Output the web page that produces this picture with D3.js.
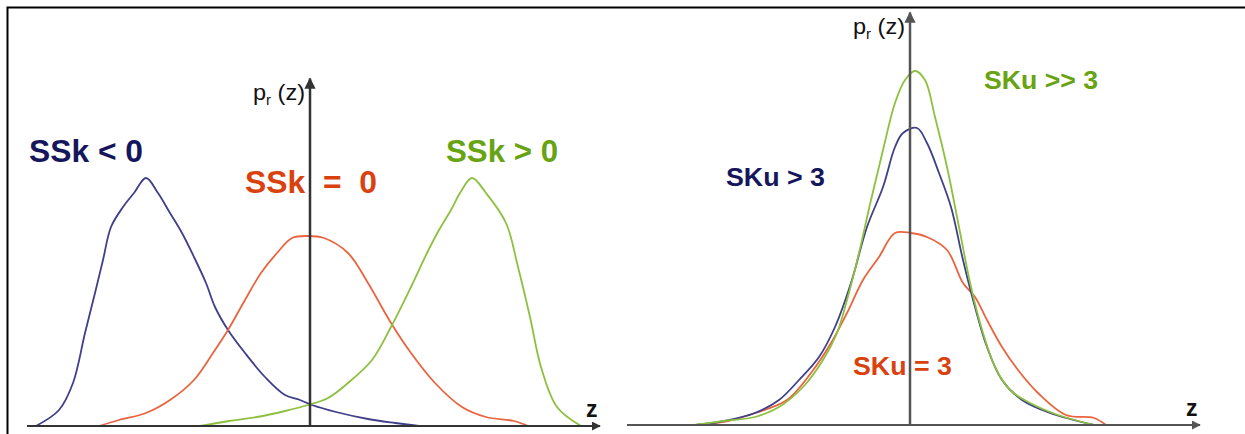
<!DOCTYPE html>
<html>
<head>
<meta charset="utf-8">
<script src="https://cdn.jsdelivr.net/npm/d3@7"></script>
<style>
  body { margin: 0; background: #fff; }
  svg { display: block; }
  text { font-family: "Liberation Sans", Arial, sans-serif; }
</style>
</head>
<body>
<div id="chart"></div>
<script>
// skewness panel (left): z, p values
var skNegZ = [-5.48,-5.02,-4.74,-4.50,-4.30,-4.14,-3.98,-3.74,-3.52,-3.28,-3.04,-2.80,-2.56,-2.32,-2.08,-1.90,-1.64,-1.30,-0.90,-0.50,-0.20,0.04,0.52,1.16,1.70,2.18]
var skNegP = [0,0.064,0.172,0.372,0.532,0.664,0.796,0.876,0.932,0.992,0.932,0.852,0.772,0.676,0.572,0.476,0.384,0.292,0.196,0.124,0.104,0.084,0.056,0.028,0.012,0]

var skZeroZ = [-4.22,-3.82,-3.28,-2.80,-2.32,-1.94,-1.64,-1.30,-0.98,-0.66,-0.36,-0.04,0.28,0.76,1.16,1.62,2.02,2.50,3.04,3.52,4.08,4.36]
var skZeroP = [0,0.024,0.052,0.104,0.184,0.292,0.384,0.504,0.612,0.692,0.752,0.760,0.752,0.692,0.572,0.412,0.292,0.172,0.076,0.036,0.020,0]

var skPosZ = [-2.20,-1.62,-1.06,-0.50,-0.04,0.36,0.76,1.24,1.62,2.02,2.34,2.58,2.82,3.00,3.24,3.52,3.92,4.16,4.40,4.62,4.94,5.42]
var skPosP = [0,0.020,0.036,0.060,0.084,0.112,0.172,0.264,0.396,0.556,0.692,0.784,0.864,0.932,0.992,0.932,0.812,0.636,0.436,0.236,0.076,0]

// kurtosis panel (right)
var kuHighZ = [-4.32,-3.72,-3.10,-2.62,-2.14,-1.74,-1.46,-1.26,-1.02,-0.78,-0.54,-0.30,-0.10,0.10,0.30,0.50,0.74,0.98,1.22,1.46,1.70,2.00,2.40,2.96,3.68]
var kuHighP = [0,0.016,0.032,0.072,0.152,0.26,0.368,0.50,0.688,0.90,1.10,1.288,1.38,1.416,1.38,1.232,1.032,0.792,0.552,0.368,0.232,0.14,0.088,0.04,0]

var kuMidZ = [-4.28,-3.72,-3.10,-2.62,-2.22,-1.82,-1.50,-1.18,-0.86,-0.54,-0.30,-0.14,0.14,0.34,0.58,0.82,1.06,1.30,1.54,1.84,2.24,2.80,3.68]
var kuMidP = [0,0.016,0.048,0.10,0.18,0.272,0.392,0.568,0.792,0.952,1.112,1.168,1.188,1.128,1.008,0.872,0.66,0.472,0.312,0.18,0.10,0.048,0]

var kuNormZ = [-4.28,-3.64,-3.10,-2.46,-1.98,-1.58,-1.26,-0.94,-0.62,-0.30,0.02,0.34,0.74,1.06,1.30,1.54,1.84,2.16,2.56,3.12,3.68,3.92]
var kuNormP = [0,0.016,0.048,0.10,0.208,0.328,0.448,0.58,0.672,0.768,0.768,0.752,0.70,0.568,0.512,0.42,0.312,0.22,0.128,0.04,0.028,0]

var skLabels = ["SSk < 0", "SSk  =  0", "SSk > 0"]
var kuLabels = ["SKu > 3", "SKu = 3", "SKu >> 3"]

var width = 1245, height = 434

var svg = d3.select("#chart").append("svg")
    .attr("width", width)
    .attr("height", height)

// frame
svg.append("path")
    .attr("d", "M7.5,434 V7.5 H1245")
    .attr("fill", "none")
    .attr("stroke", "#000")
    .attr("stroke-width", 2)

var defs = svg.append("defs")
function arrow(id, color) {
    defs.append("marker")
        .attr("id", id)
        .attr("viewBox", "0 0 10 10")
        .attr("refX", 9).attr("refY", 5)
        .attr("markerWidth", 4.5).attr("markerHeight", 4.5)
        .attr("orient", "auto")
        .append("path").attr("d", "M0,0 L10,5 L0,10 Z").attr("fill", color)
}
arrow("arrL", "#333")
arrow("arrR", "#555")

function zip(xs, ys) { return xs.map((x, i) => [x, ys[i]]) }

function panel(opt) {
    var x = d3.scaleLinear().domain([-5.66, 5.8]).range([opt.x0, opt.x0 + 573])
    var y = d3.scaleLinear().domain([0, 1]).range([opt.y0, opt.y0 - 250])
    var g = svg.append("g")

    var line = d3.line()
        .x(d => x(d[0]))
        .y(d => y(d[1]))
        .curve(d3.curveCatmullRom)

    opt.series.forEach(s => {
        g.append("path")
            .datum(zip(s.z, s.p))
            .attr("d", line)
            .attr("fill", "none")
            .attr("stroke", s.color)
            .attr("stroke-width", 1.8)
    })

    // axes
    g.append("line")
        .attr("x1", x(-5.66)).attr("x2", x(5.8))
        .attr("y1", y(0)).attr("y2", y(0))
        .attr("stroke", opt.axis).attr("stroke-width", 2)
        .attr("marker-end", "url(#" + opt.marker + ")")
    g.append("line")
        .attr("x1", x(0)).attr("x2", x(0))
        .attr("y1", y(0) + 1).attr("y2", y(opt.ytop))
        .attr("stroke", opt.axis).attr("stroke-width", 2.5)
        .attr("marker-end", "url(#" + opt.marker + ")")

    // axis titles
    var t = g.append("text")
        .attr("x", x(0) - 57).attr("y", y(opt.ytop) + 21)
        .attr("font-size", 22).attr("fill", "#111")
        .attr("textLength", 52).attr("lengthAdjust", "spacingAndGlyphs")
    t.append("tspan").text("p")
    t.append("tspan").attr("font-size", 14).attr("dy", 5).text("r")
    t.append("tspan").attr("dy", -5).text(" (z)")

    g.append("text")
        .attr("x", x(5.8) - 14).attr("y", y(0) - 9)
        .attr("font-size", 23).attr("font-weight", "bold").attr("fill", "#111")
        .text("z")

    opt.labels.forEach(l => {
        g.append("text")
            .attr("x", l.x).attr("y", l.y)
            .attr("font-size", l.size).attr("font-weight", "bold")
            .attr("fill", l.color)
            .attr("textLength", l.w).attr("lengthAdjust", "spacingAndGlyphs")
            .style("white-space", "pre")
            .text(l.text)
    })
}

panel({
    x0: 27, y0: 426, ytop: 1.39, axis: "#333", marker: "arrL",
    series: [
        {z: skNegZ, p: skNegP, color: "#3f3f8a"},
        {z: skZeroZ, p: skZeroP, color: "#e8653f"},
        {z: skPosZ, p: skPosP, color: "#8dc03f"}
    ],
    labels: [
        {text: skLabels[0], x: 29, y: 162, w: 114, size: 32, color: "#16165c"},
        {text: skLabels[1], x: 245, y: 193, w: 132, size: 32, color: "#d9420f"},
        {text: skLabels[2], x: 446, y: 162, w: 112, size: 32, color: "#67a312"}
    ]
})

panel({
    x0: 627, y0: 425, ytop: 1.65, axis: "#555", marker: "arrR",
    series: [
        {z: kuNormZ, p: kuNormP, color: "#e8653f"},
        {z: kuMidZ, p: kuMidP, color: "#3f3f8a"},
        {z: kuHighZ, p: kuHighP, color: "#8dc03f"}
    ],
    labels: [
        {text: kuLabels[0], x: 726, y: 186, w: 99, size: 26, color: "#16165c"},
        {text: kuLabels[1], x: 853, y: 375, w: 99, size: 26, color: "#d9420f"},
        {text: kuLabels[2], x: 984, y: 89, w: 114, size: 26, color: "#67a312"}
    ]
})
</script>
</body>
</html>
